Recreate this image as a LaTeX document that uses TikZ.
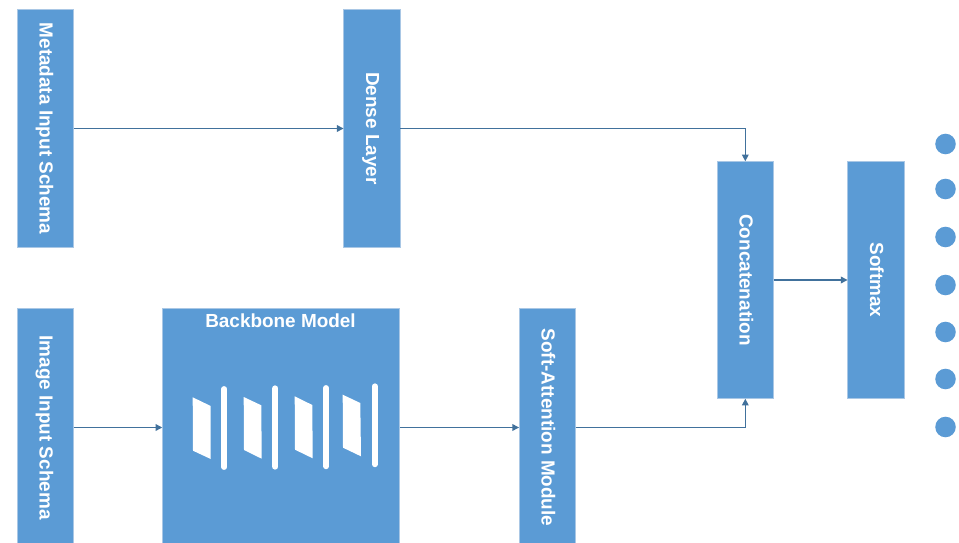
\documentclass[tikz,border=0pt]{standalone}
\usepackage{fontspec}
\setmainfont{Liberation Sans}
\usetikzlibrary{arrows.meta}
\newcommand{\vertlabel}[1]{\rotatebox{-90}{\rule[-3.2pt]{0pt}{15.1pt}#1}}
\tikzset{
  blk/.style={rectangle,fill=boxblue,draw=boxedge,line width=0.5pt,inner sep=0pt,outer sep=0pt,text=white,font=\fontsize{14.2}{16}\bfseries\selectfont,minimum width=#1*0.75pt},
  tall/.style={minimum height=237.5*0.75pt},
  lbl/.style={text=white,font=\fontsize{14.2}{16}\bfseries\selectfont,inner sep=0pt},
  conn/.style={draw=linkblue,line width=0.95pt,-{Triangle[length=5pt,width=5pt]}},
  dot/.style={circle,fill=boxblue,inner sep=0pt,minimum size=15.4pt},
  para/.style={fill=white,draw=none},
  bar/.style={draw=white,line width=4.4pt,line cap=round}
}
\definecolor{boxblue}{HTML}{5B9BD5}
\definecolor{boxedge}{HTML}{A9C7E5}
\definecolor{linkblue}{HTML}{41719C}
\begin{document}
\begin{tikzpicture}[x=0.75pt,y=-0.75pt]
\useasboundingbox (0,0) rectangle (959,542);
\clip (0,0) rectangle (959,542);
\fill[white] (0,0) rectangle (959,542);
\node[blk=56.5,tall] (meta) at (45.3,128.5) {\vertlabel{Metadata Input Schema}};
\node[blk=56.5,tall] (dense) at (371.8,128.5) {\vertlabel{Dense Layer}};
\node[blk=56.5,tall] (concat) at (745.3,280) {\vertlabel{Concatenation}};
\node[blk=56.5,tall] (softmax) at (875.8,280) {\vertlabel{Softmax}};
\node[blk=56.5,tall] (image) at (45.3,427.5) {\vertlabel{Image Input Schema}};
\node[blk=237.5,tall] (backbone) at (281,427.5) {};
\node[blk=56.5,tall] (soft) at (547.3,427.5) {\vertlabel{Soft-Attention Module}};
\node[lbl] (bbtitle) at (280.5,321) {Backbone Model};
\foreach \nm/\y in {a/144,b/189,c/237,d/285,e/332,f/379,g/427}
  \node[dot] (out\nm) at (945.5,\y) {};
\draw[conn] (meta.east) -- (dense.west);
\draw[conn] (dense.east) -| (concat.north);
\draw[conn] (image.east) -- (backbone.west);
\draw[conn] (backbone.east) -- (soft.west);
\draw[conn] (soft.east) -| (concat.south);
\draw[conn] (concat.east) -- (softmax.west);
\fill[para] (192.7,397.3) -- (210.7,406) -- (210.7,459) -- (193,450.7) -- cycle;
\fill[para] (243.7,397) -- (261.3,405.3) -- (261.7,458.7) -- (244,450) -- cycle;
\fill[para] (294.7,396.3) -- (312.3,405) -- (312.7,458.3) -- (295,449.7) -- cycle;
\fill[para] (342.7,394.7) -- (360.3,403) -- (361,456.3) -- (343,447.7) -- cycle;
\draw[bar] (224.3,389) -- (224.3,467);
\draw[bar] (275.3,388.3) -- (275.3,466.7);
\draw[bar] (326.2,388) -- (326.2,466.3);
\draw[bar] (374.8,386.3) -- (374.8,464.3);
\end{tikzpicture}
\end{document}
